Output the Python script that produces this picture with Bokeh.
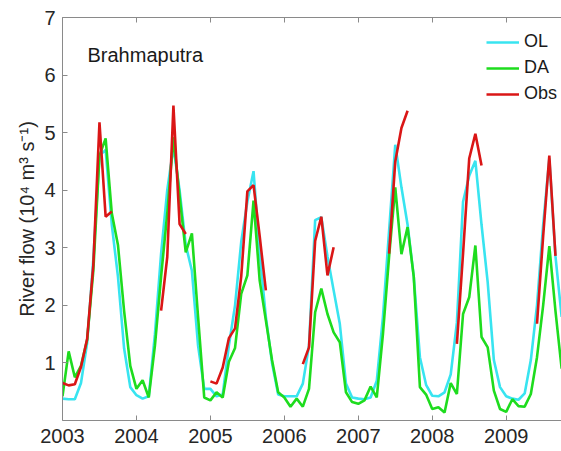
import numpy as np
from bokeh.plotting import figure
from bokeh.models import Range1d, FixedTicker, LinearAxis, Label
from bokeh.embed import file_html
from bokeh.resources import INLINE

nan = float("nan")

# ---------------- data (monthly, Jan 2003 .. Oct 2009) ----------------
start_year = 2003
year_ticks = [2003, 2004, 2005, 2006, 2007, 2008, 2009]
y_ticks = [1, 2, 3, 4, 5, 6, 7]

ol = [
    0.38, 0.37, 0.37, 0.65, 1.35, 2.80, 4.60, 4.70, 3.40, 2.50, 1.25, 0.58,   # 2003
    0.44, 0.38, 0.42, 1.50, 2.90, 4.00, 4.75, 4.00, 3.05, 2.60, 1.30, 0.55,   # 2004
    0.55, 0.42, 0.45, 1.30, 2.00, 3.10, 3.80, 4.33, 2.90, 1.80, 1.00, 0.45,   # 2005
    0.42, 0.42, 0.42, 0.64, 1.30, 3.48, 3.53, 2.85, 2.26, 1.68, 0.64, 0.40,   # 2006
    0.38, 0.37, 0.40, 0.69, 1.80, 3.30, 4.79, 4.05, 3.40, 2.50, 1.10, 0.62,   # 2007
    0.43, 0.42, 0.49, 0.80, 1.70, 3.80, 4.25, 4.51, 3.40, 2.40, 1.05, 0.58,   # 2008
    0.42, 0.38, 0.36, 0.47, 1.05, 2.00, 3.40, 4.55, 2.85, 1.80,               # 2009
]
da = [
    0.42, 1.20, 0.75, 0.95, 1.40, 2.60, 4.60, 4.90, 3.60, 3.05, 1.90, 0.95,   # 2003
    0.55, 0.70, 0.40, 1.30, 2.50, 3.60, 4.92, 3.90, 2.92, 3.25, 1.80, 0.40,   # 2004
    0.35, 0.49, 0.40, 1.02, 1.26, 2.20, 2.52, 3.82, 2.43, 1.74, 1.05, 0.49,   # 2005
    0.40, 0.24, 0.38, 0.24, 0.55, 1.88, 2.29, 1.85, 1.53, 1.36, 0.49, 0.32,   # 2006
    0.29, 0.35, 0.59, 0.40, 1.50, 2.85, 4.05, 2.89, 3.36, 2.50, 0.58, 0.45,   # 2007
    0.20, 0.23, 0.14, 0.65, 0.46, 1.85, 2.14, 3.04, 1.45, 1.27, 0.52, 0.20,   # 2008
    0.15, 0.37, 0.25, 0.24, 0.46, 1.10, 2.00, 3.03, 1.90, 0.90,               # 2009
]
obs = [
    0.65, 0.61, 0.63, 0.93, 1.42, 2.70, 5.18, 3.54, 3.63, nan, nan, nan,      # 2003
    nan, nan, nan, nan, 1.91, 2.84, 5.47, 3.41, 3.24, nan, nan, nan,          # 2004
    0.68, 0.64, 0.92, 1.43, 1.60, 2.50, 3.98, 4.09, 3.20, 2.26, nan, nan,     # 2005
    nan, nan, nan, 0.98, 1.27, 3.12, 3.54, 2.52, 3.01, nan, nan, nan,         # 2006
    nan, nan, nan, nan, nan, 2.90, 4.50, 5.08, 5.38, nan, nan, nan,           # 2007
    nan, nan, nan, nan, 1.33, 2.90, 4.55, 4.98, 4.43, nan, nan, nan,          # 2008
    nan, nan, nan, nan, nan, 1.68, 3.20, 4.60, 2.86, nan,                     # 2009
]

t = start_year + np.arange(len(ol)) / 12.0

# ---------------- figure ----------------
FONT = "Liberation Sans"
AXC = "#8a8a8a"
TXT = "#262626"

p = figure(width=561, height=451, output_backend="svg", toolbar_location=None,
           x_range=Range1d(2003, 2009.748), y_range=Range1d(0, 7),
           min_border_left=62, min_border_right=0, min_border_top=17,
           min_border_bottom=31)
p.grid.visible = False
p.outline_line_color = None
p.background_fill_color = "white"
p.border_fill_color = "white"

c_ol = "#38E4F0"
c_da = "#1EDC1E"
c_obs = "#DA1616"
lw = 2.6

p.line(t, ol, line_color=c_ol, line_width=lw, legend_label="OL")
p.line(t, da, line_color=c_da, line_width=lw, legend_label="DA")
p.line(t, obs, line_color=c_obs, line_width=lw, legend_label="Obs")

def style(ax):
    ax.axis_line_color = AXC
    ax.axis_line_width = 1
    ax.major_tick_line_color = AXC
    ax.major_tick_in = 5
    ax.major_tick_out = 0
    ax.minor_tick_line_color = None
    ax.major_label_text_font = FONT
    ax.major_label_text_font_size = "20px"
    ax.major_label_text_color = TXT

xa = p.xaxis[0]
xa.ticker = FixedTicker(ticks=year_ticks)
style(xa)
xa.major_label_standoff = 8

ya = p.yaxis[0]
ya.ticker = FixedTicker(ticks=y_ticks)
style(ya)
ya.major_label_standoff = 7
ya.axis_label = "River flow (10\u2074 m\u00b3 s\u207b\u00b9)"
ya.axis_label_text_font = FONT
ya.axis_label_text_font_size = "20px"
ya.axis_label_text_font_style = "normal"
ya.axis_label_text_color = TXT
ya.axis_label_standoff = 3

# top border with inward ticks, no labels
top = LinearAxis(ticker=FixedTicker(ticks=year_ticks))
style(top)
top.major_label_text_font_size = "1px"
top.major_label_text_color = None
top.major_label_standoff = 0
p.add_layout(top, "above")

p.add_layout(Label(x=2003.338, y=6.35, text="Brahmaputra", text_font=FONT,
                   text_font_size="20px", text_color="#1a1a1a",
                   text_baseline="alphabetic"))

lg = p.legend[0]
lg.location = (424, 316)
lg.label_text_font = FONT
lg.label_text_font_size = "18px"
lg.label_text_color = "#1a1a1a"
lg.glyph_width = 33
lg.glyph_height = 20
lg.label_height = 20
lg.label_standoff = 5
lg.spacing = 5
lg.padding = 0
lg.margin = 0
lg.border_line_color = None
lg.background_fill_alpha = 0

open("out.html", "w").write(file_html(p, INLINE))
